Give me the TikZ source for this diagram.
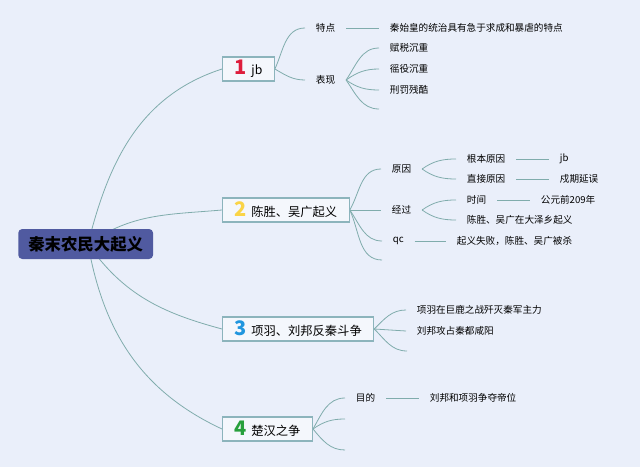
\documentclass[tikz,border=0pt]{standalone}
\usepackage{fontspec}
\setmainfont{Noto Sans CJK SC}

\definecolor{bgcol}{RGB}{234,239,250}
\definecolor{wirecol}{RGB}{128,172,172}
\definecolor{boxline}{RGB}{140,180,188}
\definecolor{rootfill}{RGB}{80,90,160}
\definecolor{numred}{RGB}{222,30,60}
\definecolor{numyellow}{RGB}{250,212,70}
\definecolor{numblue}{RGB}{32,150,222}
\definecolor{numgreen}{RGB}{40,160,60}

\pgfdeclarelayer{canvas}
\pgfdeclarelayer{wires}
\pgfsetlayers{canvas,wires,main}

\tikzset{
  rootbox/.style={fill=rootfill, rounded corners=3pt, anchor=west,
    minimum height=22.5pt, inner xsep=7.5pt,
    font=\fontsize{12.3}{14}\selectfont\bfseries},
  topic/.style={draw=boxline, fill=white!50!bgcol, line width=0.8pt, anchor=west,
    minimum height=18pt, inner xsep=9pt, inner ysep=2pt,
    font=\fontsize{9.2}{11}\selectfont},
  item/.style={anchor=west, inner xsep=8pt, inner ysep=1pt,
    font=\fontsize{7.2}{9}\selectfont},
  wire/.style={draw=wirecol, line width=0.6pt},
}
\newcommand{\topicnum}[2]{{\fontsize{15}{15}\selectfont\bfseries\color{#1}#2}\hspace{3.5pt}}

\begin{document}
\begin{tikzpicture}[x=0.75pt,y=0.75pt]
  % Canvas
  \begin{pgfonlayer}{canvas}
    \fill[bgcol] (0,0) rectangle (640,-467);
  \end{pgfonlayer}
  \useasboundingbox (0,0) rectangle (640,-467);

  % Root
  \node[rootbox] (qin) at (18,-244) {秦末农民大起义};
  \coordinate (hub) at (88,-244);

  % Main topics
  \node[topic] (t1) at (222,-69) {\topicnum{numred}{1}jb};
  \node[topic] (t2) at (222,-210) {\topicnum{numyellow}{2}陈胜、吴广起义};
  \node[topic] (t3) at (222,-329) {\topicnum{numblue}{3}项羽、刘邦反秦斗争};
  \node[topic] (t4) at (222,-429) {\topicnum{numgreen}{4}楚汉之争};

  % Topic 1
  \node[item] (tedian) at (305,-28) {特点};
  \node[item] (tedianL) at (379,-28) {秦始皇的统治具有急于求成和暴虐的特点};
  \node[item] (biaoxian) at (305,-80) {表现};
  \node[item] (fushui) at (379,-48) {赋税沉重};
  \node[item] (yaoyi) at (379,-69) {徭役沉重};
  \node[item] (xingfa) at (379,-90) {刑罚残酷};
  \coordinate (e1) at (379,-109);

  % Topic 2
  \node[item] (yuanyin) at (381,-169) {原因};
  \node[item] (jingguo) at (381,-210) {经过};
  \node[item] (qc) at (382,-241) {qc};
  \coordinate (e2) at (382,-260);
  \node[item] (genben) at (456,-159) {根本原因};
  \node[item] (genbenL) at (549,-159) {jb};
  \node[item] (zhijie) at (456,-179) {直接原因};
  \node[item] (zhijieL) at (549,-179) {戍期延误};
  \node[item] (shijian) at (456,-200) {时间};
  \node[item] (shijianL) at (530,-200) {公元前209年};
  \node[item] (daze) at (456,-220) {陈胜、吴广在大泽乡起义};
  \node[item] (qcL) at (446,-241) {起义失败，陈胜、吴广被杀};

  % Topic 3
  \node[item] (julu) at (406,-310) {项羽在巨鹿之战歼灭秦军主力};
  \node[item] (xianyang) at (406,-331) {刘邦攻占秦都咸阳};
  \coordinate (e3) at (407,-351);

  % Topic 4
  \node[item] (mudi) at (345,-398) {目的};
  \node[item] (mudiL) at (419,-398) {刘邦和项羽争夺帝位};
  \coordinate (e4) at (345,-419);
  \coordinate (e5) at (345,-450);

  % Connectors
  \begin{pgfonlayer}{wires}
    \draw[wire] (hub) to[out=76,in=198] (t1.west);
    \draw[wire] (hub) to[out=35,in=185] (t2.west);
    \draw[wire] (hub) to[out=-55,in=165] (t3.west);
    \draw[wire] (hub) to[out=-80,in=155] (t4.west);

    \draw[wire] (t1.east) to[out=65,in=180] (tedian.west);
    \draw[wire] (t1.east) to[out=-30,in=180] (biaoxian.west);
    \draw[wire] (tedian) -- (tedianL);
    \draw[wire] (biaoxian.east) to[out=55,in=180] (fushui.west);
    \draw[wire] (biaoxian.east) to[out=35,in=180] (yaoyi.west);
    \draw[wire] (biaoxian.east) to[out=-35,in=180] (xingfa.west);
    \draw[wire] (biaoxian.east) to[out=-55,in=180] (e1);

    \draw[wire] (t2.east) to[out=60,in=180] (yuanyin.west);
    \draw[wire] (t2.east) -- (jingguo.west);
    \draw[wire] (t2.east) to[out=-55,in=180] (qc.west);
    \draw[wire] (t2.east) to[out=-65,in=180] (e2);
    \draw[wire] (yuanyin.east) to[out=35,in=180] (genben.west);
    \draw[wire] (yuanyin.east) to[out=-35,in=180] (zhijie.west);
    \draw[wire] (genben) -- (genbenL);
    \draw[wire] (zhijie) -- (zhijieL);
    \draw[wire] (jingguo.east) to[out=35,in=180] (shijian.west);
    \draw[wire] (jingguo.east) to[out=-35,in=180] (daze.west);
    \draw[wire] (shijian) -- (shijianL);
    \draw[wire] (qc) -- (qcL);

    \draw[wire] (t3.east) to[out=45,in=180] (julu.west);
    \draw[wire] (t3.east) -- (xianyang.west);
    \draw[wire] (t3.east) to[out=-45,in=180] (e3);

    \draw[wire] (t4.east) to[out=60,in=180] (mudi.west);
    \draw[wire] (t4.east) to[out=35,in=180] (e4);
    \draw[wire] (t4.east) to[out=-50,in=180] (e5);
    \draw[wire] (mudi) -- (mudiL);
  \end{pgfonlayer}
\end{tikzpicture}
\end{document}
